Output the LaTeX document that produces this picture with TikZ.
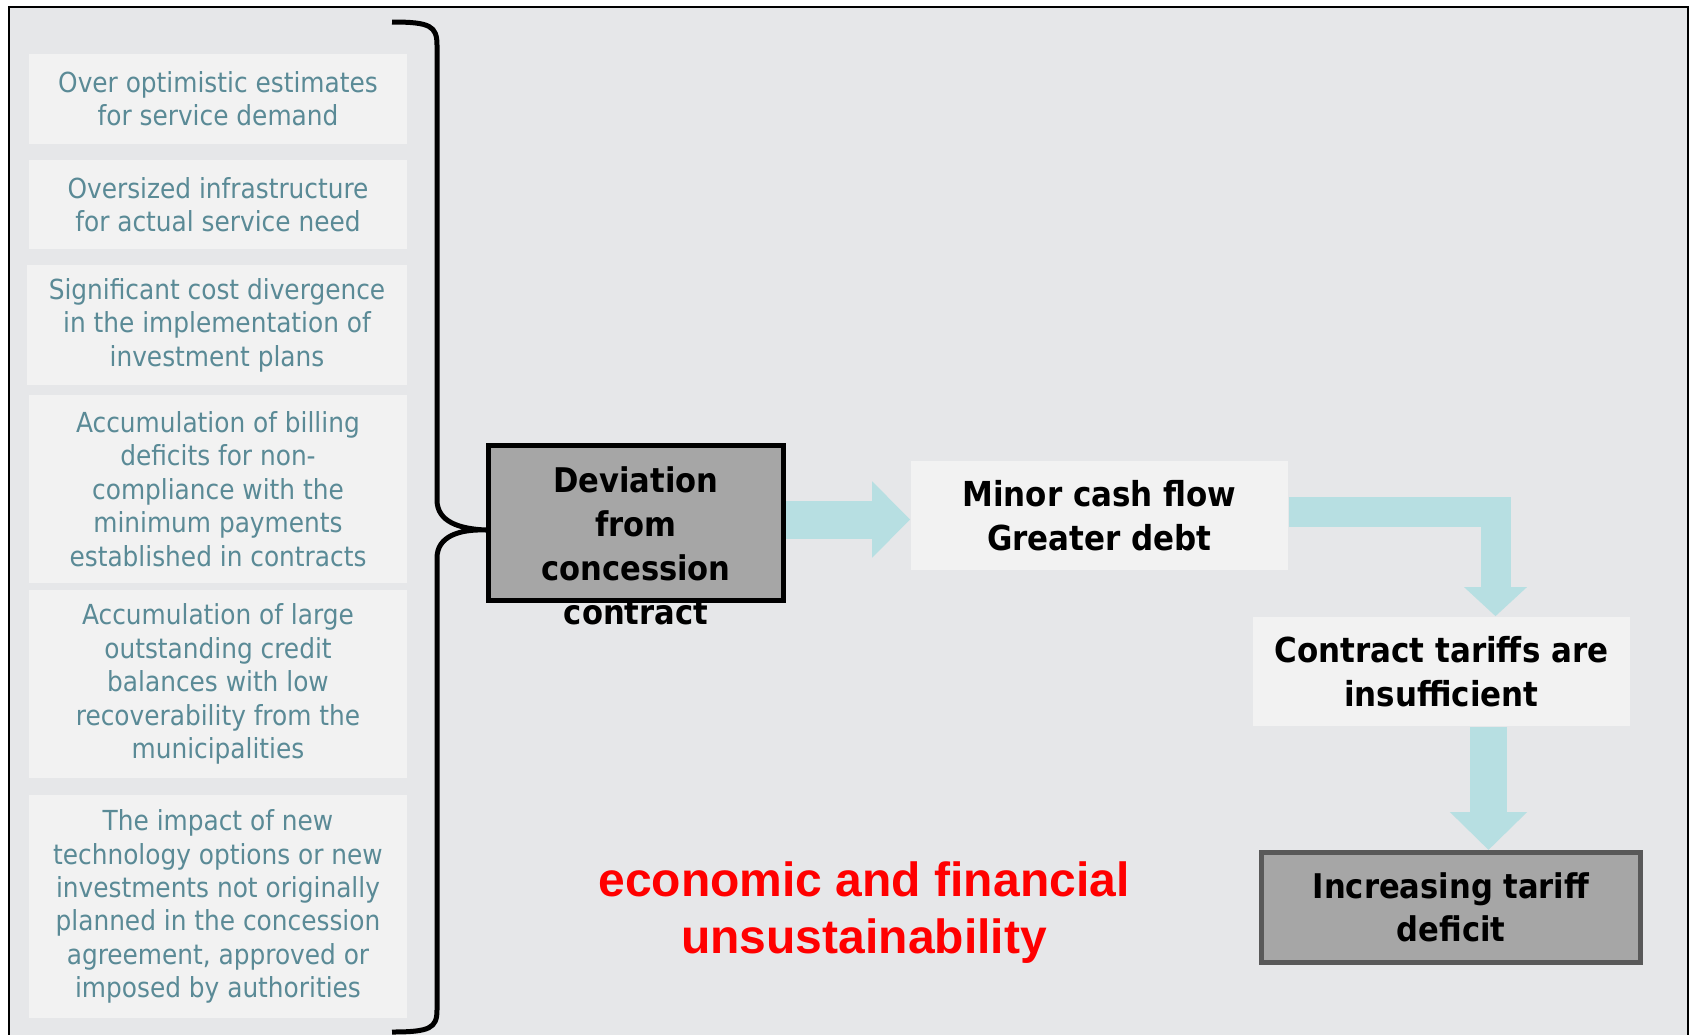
\documentclass[tikz,border=0pt]{standalone}
\usepackage{fontspec}
\usepackage{xcolor}
\usepackage{tikz}
\usetikzlibrary{positioning,calc,arrows.meta}
\setmainfont{DejaVu Sans Condensed}
\newfontfamily\redfont{Liberation Sans}
\definecolor{panelgray}{HTML}{E6E7E9}
\definecolor{boxgray}{HTML}{F2F2F2}
\definecolor{causeteal}{HTML}{5A8A96}
\definecolor{flowcyan}{HTML}{B7DFE2}
\definecolor{stagegray}{HTML}{A6A6A6}
\definecolor{deficitedge}{HTML}{595959}
\definecolor{alertred}{HTML}{FF0000}

\begin{document}
\begin{tikzpicture}[x=0.5pt, y=-0.5pt, >=latex, thick,
    cause/.style={fill=boxgray, text=causeteal, align=center, inner sep=0pt,
        minimum width=189pt, font=\fontsize{13.8}{16.7}\selectfont},
    stagebox/.style={fill=boxgray, align=center, inner sep=0pt,
        minimum width=188.5pt, minimum height=54.5pt, font=\bfseries\fontsize{17.2}{22}\selectfont},
    darkbox/.style={fill=stagegray, line width=2.5pt, inner sep=0pt},
    flow/.style={draw=flowcyan, line join=miter},
    brace/.style={line width=2.5pt, line cap=butt}]
    \clip (0,0) rectangle (1692,1034);
    \fill [white] (0,0) rectangle (1692,1034);
    \draw [fill=panelgray, line width=1pt] (9,7) rectangle (1688,1060);

    % causes on the left
    \node [cause, minimum height=45pt] (c1) at (218,99) {Over optimistic estimates\\for service demand};
    \node [cause, minimum height=44.5pt] (c2) at (218,204.5) {Oversized infrastructure\\for actual service need};
    \node [cause, minimum width=190pt, minimum height=60pt] (c3) at (217,325) {Significant cost divergence\\in the implementation of\\investment plans};
    \node [cause, minimum height=94pt] (c4) at (218,489) {Accumulation of billing\\deficits for non-\\compliance with the\\minimum payments\\established in contracts};
    \node [cause, minimum height=94pt] (c5) at (218,684) {Accumulation of large\\outstanding credit\\balances with low\\recoverability from the\\municipalities};
    \node [cause, minimum height=111.5pt] (c6) at (218,906.5) {The impact of new\\technology options or new\\investments not originally\\planned in the concession\\agreement, approved or\\imposed by authorities};

    % chain of effects
    \node [darkbox, draw=black, minimum width=147.5pt, minimum height=77.5pt] (dev) at (636,523) {};
    \node [font=\bfseries\fontsize{17}{22}\selectfont, align=center, inner sep=0pt] (devtext) at ([yshift=-11.5pt]dev.center) {Deviation\\from\\concession\\contract};
    \node [stagebox] (cash) at (1099.5,515.5) {Minor cash flow\\Greater debt};
    \node [stagebox] (tariffs) at (1441.5,671.5) {Contract tariffs are\\insufficient};
    \node [darkbox, draw=deficitedge, minimum width=189.5pt, minimum height=55pt, align=center, font=\bfseries\fontsize{17}{21.5}\selectfont] (deficit) at (1451,907.5) {Increasing tariff\\deficit};

    \node [font=\redfont\bfseries\fontsize{24}{28.5}\selectfont, text=alertred, align=center] (verdict) at (864,913) {economic and financial\\unsustainability};

    % brace
    \draw [brace] (392,22) .. controls (430,22) and (437,26) .. (437,45) -- (437,500)
        .. controls (437,522) and (460,529) .. ([yshift=-3.5pt]dev.west)
        .. controls (460,529) and (437,536) .. (437,558) -- (437,1010)
        .. controls (437,1028) and (430,1032) .. (392,1032);

    % arrows
    \draw [flow, line width=19pt, -{Triangle[width=37pt, length=19pt]}] (dev.east |- 0,519.5) -- (cash.west |- 0,519.5);
    \coordinate (bend) at ([xshift=27pt]tariffs.north);
    \draw [flow, line width=15pt, -{Triangle[width=30.5pt, length=14.5pt]}] (cash.east |- 0,512) -| (bend);
    \coordinate (drop) at ([xshift=23.5pt]tariffs.south);
    \draw [flow, line width=18.5pt, -{Triangle[width=37.5pt, length=19pt]}] (drop) -- (drop |- deficit.north);
\end{tikzpicture}
\end{document}
